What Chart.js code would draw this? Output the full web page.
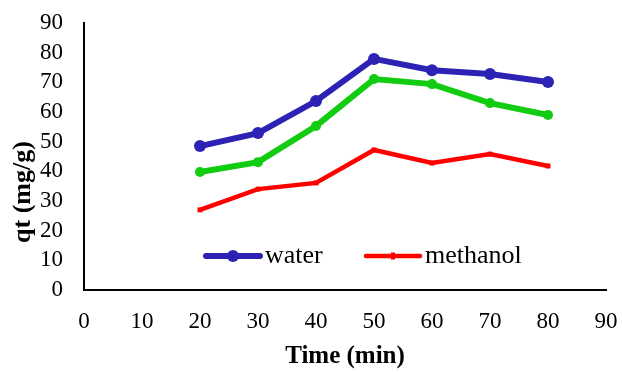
<!DOCTYPE html>
<html>
<head>
<meta charset="utf-8">
<script src="https://cdn.jsdelivr.net/npm/chart.js@4.4.1/dist/chart.umd.min.js"></script>
<style>
  html, body { margin: 0; padding: 0; background: #fff; }
  #wrap { width: 622px; height: 372px; }
</style>
</head>
<body>
<div id="wrap"><canvas id="chart"></canvas></div>
<script>
// data
const times = [20, 30, 40, 50, 60, 70, 80];
const water = [48.5, 52.9, 63.7, 77.9, 74.1, 72.8, 70.1];
const ethanol = [39.8, 43.1, 55.3, 71.1, 69.4, 63.0, 59.0];
const methanol = [27.0, 34.0, 36.1, 47.2, 42.8, 45.8, 41.8];
const xTicks = [0, 10, 20, 30, 40, 50, 60, 70, 80, 90];
const yTicks = [0, 10, 20, 30, 40, 50, 60, 70, 80, 90];

const FONT = "'Liberation Serif', 'Times New Roman', serif";

function pts(ys) {
    return times.map((t, i) => ({ x: t, y: ys[i] }));
}

// legend inside the plot (only water + methanol, like the original) and the y title
const extras = {
    id: "extras",
    afterDraw(chart) {
        const ctx = chart.ctx;
        const y = 256;
        const items = [
            { ds: chart.data.datasets[0], x: 206 },
            { ds: chart.data.datasets[2], x: 366 },
        ];
        ctx.save();
        items.forEach(it => {
            const ds = it.ds;
            ctx.strokeStyle = ds.borderColor;
            ctx.lineWidth = ds.borderWidth;
            ctx.lineCap = "round";
            ctx.beginPath();
            ctx.moveTo(it.x, y);
            ctx.lineTo(it.x + 54, y);
            ctx.stroke();
            ctx.fillStyle = ds.borderColor;
            if (ds.pointStyle === "circle") {
                ctx.beginPath();
                ctx.arc(it.x + 27, y, ds.pointRadius, 0, Math.PI * 2);
                ctx.fill();
            } else {
                ctx.fillRect(it.x + 25, y - 3.5, 4, 7);
            }
            ctx.fillStyle = "#000";
            ctx.font = "26px " + FONT;
            ctx.textBaseline = "middle";
            ctx.fillText(ds.label, it.x + 59, y);
        });

        ctx.translate(23, 192);
        ctx.rotate(-Math.PI / 2);
        ctx.font = "bold 26px " + FONT;
        ctx.textAlign = "center";
        ctx.textBaseline = "middle";
        ctx.fillText("qt (mg/g)", 0, 0);
        ctx.restore();
    }
};

new Chart(document.getElementById("chart"), {
    type: "line",
    data: {
        datasets: [
            {
                label: "water",
                data: pts(water),
                borderColor: "#2C22B4",
                backgroundColor: "#2C22B4",
                borderWidth: 6,
                pointStyle: "circle",
                pointRadius: 6,
                pointBorderWidth: 0,
            },
            {
                label: "ethanol",
                data: pts(ethanol),
                borderColor: "#11CC11",
                backgroundColor: "#11CC11",
                borderWidth: 6,
                pointStyle: "circle",
                pointRadius: 5,
                pointBorderWidth: 0,
            },
            {
                label: "methanol",
                data: pts(methanol),
                borderColor: "#FF0000",
                backgroundColor: "#FF0000",
                borderWidth: 4.5,
                pointStyle: "rect",
                pointRadius: 3.5,
                pointBorderWidth: 0,
            },
        ]
    },
    options: {
        responsive: true,
        maintainAspectRatio: false,
        animation: false,
        layout: { padding: { left: 0, right: 16, top: 23, bottom: 0 } },
        elements: { line: { tension: 0 } },
        plugins: {
            legend: { display: false },
            tooltip: { enabled: false },
        },
        scales: {
            x: {
                type: "linear",
                min: 0,
                max: 90,
                afterBuildTicks: s => { s.ticks = xTicks.map(v => ({ value: v })); },
                afterFit: s => { s.height = 82; s.paddingLeft = 0; s.paddingRight = 0; },
                grid: { display: false, drawTicks: false },
                border: { display: true, color: "#000", width: 2 },
                ticks: { color: "#000", font: { family: FONT, size: 23 }, padding: 18, autoSkip: false, maxRotation: 0 },
                title: {
                    display: true,
                    text: "Time (min)",
                    color: "#000",
                    font: { family: FONT, size: 25, weight: "bold" },
                    padding: { top: 0, bottom: 0 },
                },
            },
            y: {
                min: 0,
                max: 90,
                afterBuildTicks: s => { s.ticks = yTicks.map(v => ({ value: v })); },
                afterFit: s => { s.width = 84; s.paddingTop = 0; s.paddingBottom = 0; },
                grid: { display: false, drawTicks: false },
                border: { display: true, color: "#000", width: 2 },
                ticks: { color: "#000", font: { family: FONT, size: 23 }, padding: 21, autoSkip: false },
            },
        },
    },
    plugins: [extras],
});
</script>
</body>
</html>
